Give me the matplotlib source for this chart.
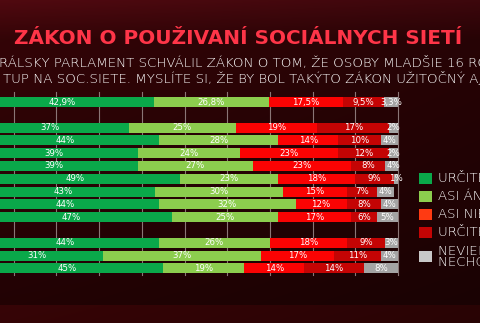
import numpy as np
import matplotlib
matplotlib.use("Agg")
import matplotlib.pyplot as plt
from matplotlib.patches import Rectangle

# answer shares per row (%), rows are slots in the layout, None = empty gap row
urcite_ano = [42.9, None, 37, 44, 39, 39, 49, 43, 44, 47, None, 44, 31, 45]
asi_ano    = [26.8, None, 25, 28, 24, 27, 23, 30, 32, 25, None, 26, 37, 19]
asi_nie    = [17.5, None, 19, 14, 23, 23, 18, 15, 12, 17, None, 18, 17, 14]
urcite_nie = [9.5,  None, 17, 10, 12, 8,  9,  7,  8,  6,  None, 9,  11, 14]
neviem     = [3.3,  None, 2,  4,  2,  4,  1,  4,  4,  5,  None, 3,  4,  8]

series = [urcite_ano, asi_ano, asi_nie, urcite_nie, neviem]
bar_colors = ["#0aa84a", "#8ccd4e", "#fb0303", "#c40404", "#a4a4a4"]
legend_labels = ["URČITE ÁNO", "ASI ÁNO", "ASI NIE", "URČITE NIE", "NEVIEM /\nNECHCEM ODPOVEDAŤ"]
legend_colors = ["#0aa84a", "#8ccd4e", "#ff3a12", "#c40404", "#c8c8c8"]

title = "ZÁKON O POUŽIVANÍ SOCIÁLNYCH SIETÍ"
sub1 = "RÁLSKY PARLAMENT SCHVÁLIL ZÁKON O TOM, ŽE OSOBY MLADŠIE 16 RO"
sub2 = "TUP NA SOC.SIETE. MYSLÍTE SI, ŽE BY BOL TAKÝTO ZÁKON UŽITOČNÝ AJ"

W, H = 480, 323
fig = plt.figure(figsize=(W / 100, H / 100), dpi=100)

def fx(px):
    return px / W

def fy(py):
    return 1 - py / H

# background
bg = fig.add_axes([0, 0, 1, 1])
g = np.zeros((H, W, 3))
yy = np.linspace(0, 1, H)[:, None]
xx = np.linspace(0, 1, W)[None, :]
top = np.array([0.30, 0.035, 0.06])
mid = np.array([0.19, 0.015, 0.025])
low = np.array([0.13, 0.01, 0.015])
for c in range(3):
    v = np.where(yy < 0.12, top[c] + (mid[c] - top[c]) * yy / 0.12,
                 mid[c] + (low[c] - mid[c]) * (yy - 0.12) / 0.8)
    g[:, :, c] = v * (1.05 - 0.25 * xx)
band = (yy > 0.945)[:, 0]
g[band] = g[band] * 1.6
bg.imshow(np.clip(g, 0, 1), aspect="auto", extent=[0, 1, 0, 1])
bg.axis("off")

# bar chart
pxpct = 4.27
x_end = 398
ytop, ybot = 92, 275
ax = fig.add_axes([0, fy(ybot), fx(x_end), (ybot - ytop) / H])
ax.set_facecolor("none")
ax.set_xlim(100 - x_end / pxpct, 100)
ax.set_ylim((ybot - 102) / 12.8, (ytop - 102) / 12.8)
for s in ax.spines.values():
    s.set_visible(False)
ax.set_xticks([])
ax.set_yticks([])
for gx in range(10, 101, 10):
    ax.axvline(gx, color="#8a7676", lw=0.8, zorder=1, clip_on=False)

rows = [i for i, v in enumerate(urcite_ano) if v is not None]
for i in rows:
    left = 0
    for vals, col in zip(series, bar_colors):
        v = vals[i]
        ax.barh(i, v, left=left, height=0.78, color=col, zorder=2, linewidth=0)
        if v == int(v):
            lab = f"{int(v)}%"
        else:
            lab = f"{v:.1f}%".replace(".", ",")
        ax.text(left + v / 2, i, lab, ha="center", va="center", color="white",
                fontsize=6.2, family="DejaVu Sans", zorder=3)
        left += v

# titles
fig.text(fx(238), fy(38.5), title, ha="center", va="center", color="#ff3548",
         fontsize=14.4, fontweight="bold", family="DejaVu Sans")
fig.text(fx(-1), fy(62), sub1, ha="left", va="center", color="white",
         fontsize=9.6, fontweight="light", family="DejaVu Sans")
fig.text(fx(3), fy(78), sub2, ha="left", va="center", color="white",
         fontsize=9.6, fontweight="light", family="DejaVu Sans")

# legend
leg_y = [178, 196, 214, 232, 256]
for yc, lab, col in zip(leg_y, legend_labels, legend_colors):
    fig.add_artist(Rectangle((fx(419), fy(yc + 5.5)), fx(13), 11 / H,
                             transform=fig.transFigure, color=col, lw=0))
    fig.text(fx(438), fy(yc), lab, ha="left", va="center", color="white",
             fontsize=9.5, fontweight="light", family="DejaVu Sans", linespacing=0.95)

fig.savefig("out.png", dpi=100)
